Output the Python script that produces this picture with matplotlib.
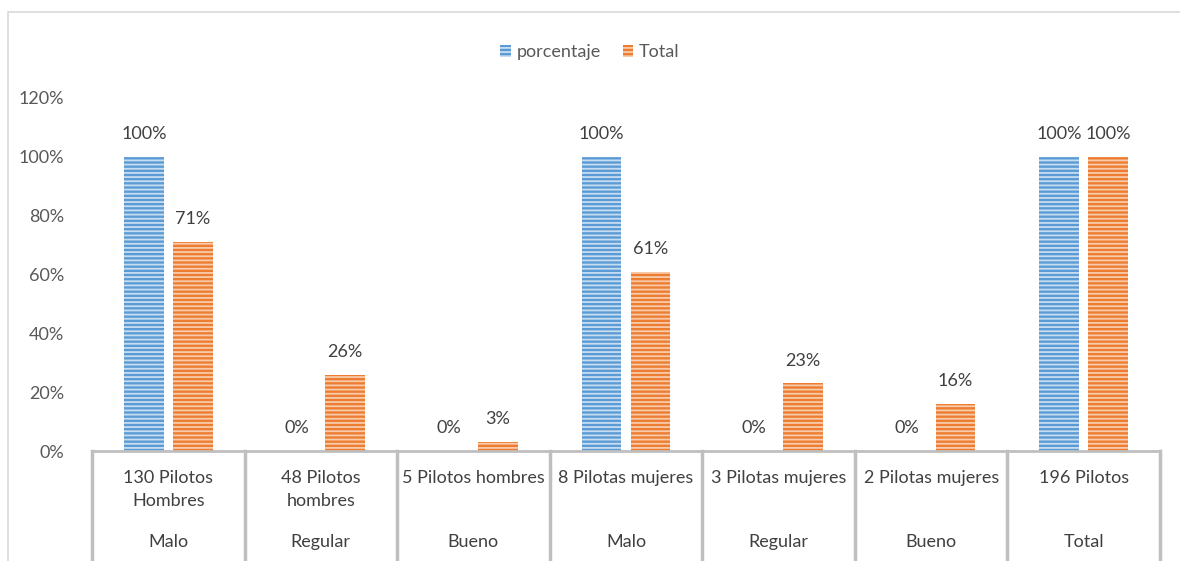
import numpy as np
import matplotlib.pyplot as plt
from matplotlib.patches import Rectangle

plt.rcParams['font.family'] = ['Lato', 'DejaVu Sans']

grupos = ['130 Pilotos\nHombres', '48 Pilotos\nhombres', '5 Pilotos hombres',
          '8 Pilotas mujeres', '3 Pilotas mujeres', '2 Pilotas mujeres', '196 Pilotos']
nivel = ['Malo', 'Regular', 'Bueno', 'Malo', 'Regular', 'Bueno', 'Total']
porcentaje = [100, 0, 0, 100, 0, 0, 100]
total = [71, 26, 3, 61, 23, 16, 100]

fs = 13
fig = plt.figure(figsize=(11.8, 5.61), dpi=100)
ax = fig.add_axes([92/1180, 1-451/561, (1160-92)/1180, (451-98)/561])

x = np.arange(len(grupos))
w = 0.26
off = 0.16
plt.rcParams['hatch.linewidth'] = 1.3

b1 = ax.bar(x - off, porcentaje, w, color='#5B9BD5', edgecolor='#C9DDF1',
            hatch='----', linewidth=0, label='porcentaje')
b2 = ax.bar(x + off, total, w, color='#ED7D31', edgecolor='#F8CBAD',
            hatch='----', linewidth=0, label='Total')

txt = '#404040'
for xi, v in zip(x, porcentaje):
    ax.text(xi - off, v + 5, f'{v}%', ha='center', va='bottom', fontsize=fs, color=txt)
for xi, v in zip(x, total):
    ax.text(xi + off, v + 5, f'{v}%', ha='center', va='bottom', fontsize=fs, color=txt)

ax.set_xlim(-0.5, len(grupos) - 0.5)
ax.set_ylim(0, 120)
ax.set_yticks(range(0, 121, 20))
ax.set_yticklabels([f'{t}%' for t in range(0, 121, 20)], fontsize=fs, color='#595959')
ax.tick_params(axis='y', length=0, pad=20)
ax.set_xticks([])
for s in ['top', 'right', 'left']:
    ax.spines[s].set_visible(False)
ax.spines['bottom'].set_color('#BFBFBF')
ax.spines['bottom'].set_linewidth(2)

# two-level category axis
lc = '#BFBFBF'
for b in np.arange(-0.5, len(grupos), 1.0):
    ax.plot([b, b], [0, -38], color=lc, lw=2.5, clip_on=False)
for xi, g, n in zip(x, grupos, nivel):
    ax.text(xi, -6.3, g, ha='center', va='top', fontsize=fs, color=txt,
            linespacing=1.6)
    ax.text(xi, -31, n, ha='center', va='center', fontsize=fs, color=txt)

ax.legend(loc='upper center', bbox_to_anchor=(0.5, (561-28)/561), bbox_transform=fig.transFigure,
          ncol=2, frameon=False, fontsize=fs, handlelength=0.6, handleheight=0.6,
          handletextpad=0.3, columnspacing=1.2, labelcolor='#595959')

fig.patches.append(Rectangle((8/1180, -0.05), 1.2, 1-12/561 + 0.05, transform=fig.transFigure,
                             fill=False, edgecolor='#D9D9D9', lw=1.2))

fig.savefig('out.png', dpi=100)
